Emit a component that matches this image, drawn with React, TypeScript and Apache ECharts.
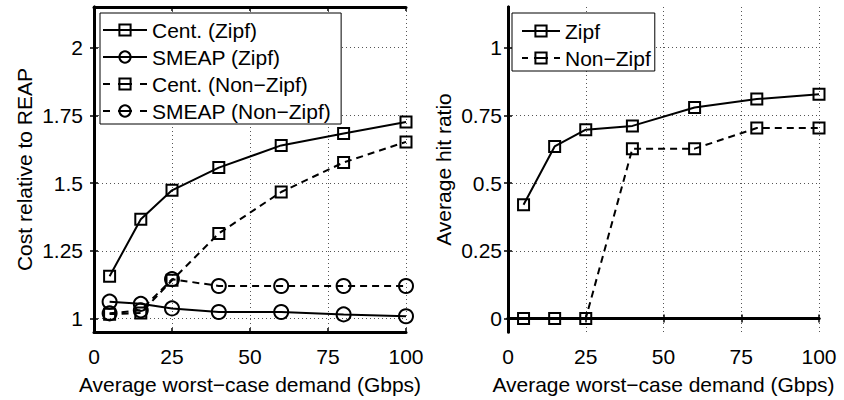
import React, { useEffect, useRef } from "react";
import * as echarts from "echarts";

const demand = [5, 15, 25, 40, 60, 80, 100];
const centZipf = [1.156, 1.366, 1.473, 1.557, 1.639, 1.683, 1.725];
const smeapZipf = [1.062, 1.054, 1.037, 1.024, 1.024, 1.015, 1.008];
const centNonZipf = [1.016, 1.02, 1.141, 1.314, 1.467, 1.576, 1.652];
const smeapNonZipf = [1.019, 1.03, 1.145, 1.12, 1.12, 1.12, 1.12];
const hitZipf = [0.42, 0.635, 0.697, 0.711, 0.779, 0.81, 0.828];
const hitNonZipf = [0, 0, 0, 0.627, 0.627, 0.703, 0.703];

const costTicks = [1, 1.25, 1.5, 1.75, 2];
const hitTicks = [0, 0.25, 0.5, 0.75, 1];

const FONT = "'Liberation Sans', Arial, Helvetica, sans-serif";
const FS = 21;

function pairs(ys: number[]) {
  return demand.map((x, i) => [x, ys[i]]);
}

export default function App() {
  const ref = useRef<HTMLDivElement>(null);
  useEffect(() => {
    if (!ref.current) return;
    const chart = echarts.init(ref.current, undefined, { renderer: "svg" });
    const axisLine = { show: true, lineStyle: { color: "#000", width: 3 } };
    const tick = { show: true, inside: true, length: 4, lineStyle: { color: "#000", width: 1.5 } };
    const grid = { show: true, lineStyle: { color: "#555", width: 1, type: [1, 3] } };
    const xBottom = (gi: number) => ({
      type: "value",
      gridIndex: gi,
      position: "bottom",
      min: 0,
      max: 100,
      interval: 25,
      axisLine,
      axisTick: tick,
      splitLine: grid,
      axisLabel: { color: "#000", fontSize: FS, fontFamily: FONT, margin: 14 },
      name: "Average worst\u2212case demand (Gbps)",
      nameLocation: "middle",
      nameGap: 42,
      nameTextStyle: { color: "#000", fontSize: FS, fontFamily: FONT },
    });
    const xTop = (gi: number) => ({
      type: "value",
      gridIndex: gi,
      position: "top",
      min: 0,
      max: 100,
      interval: 25,
      axisLine,
      axisTick: tick,
      splitLine: { show: false },
      axisLabel: { show: false },
    });
    const yLeft = (gi: number, min: number, max: number, ticks: number[], name: string, margin: number, gap: number) => ({
      type: "value",
      gridIndex: gi,
      position: "left",
      min,
      max,
      axisLine,
      axisTick: { ...tick, customValues: ticks },
      splitLine: grid,
      axisLabel: { color: "#000", fontSize: FS, fontFamily: FONT, margin, customValues: ticks },
      name,
      nameLocation: "middle",
      nameGap: gap,
      nameTextStyle: { color: "#000", fontSize: FS, fontFamily: FONT },
    });
    const yRight = (gi: number, min: number, max: number, ticks: number[]) => ({
      type: "value",
      gridIndex: gi,
      position: "right",
      min,
      max,
      axisLine,
      axisTick: { ...tick, customValues: ticks },
      splitLine: { show: false },
      axisLabel: { show: false, customValues: ticks },
    });
    const mk = (name: string, ys: number[], sym: string, dashed: boolean, xi: number, yi: number) => ({
      type: "line",
      name,
      data: pairs(ys),
      xAxisIndex: xi,
      yAxisIndex: yi,
      symbol: sym,
      symbolSize: sym === "rect" ? 11 : 14,
      showSymbol: true,
      lineStyle: { color: "#000", width: 2, type: dashed ? [7, 5] : "solid" },
      itemStyle: { color: "rgba(0,0,0,0)", borderColor: "#000", borderWidth: 2 },
      emphasis: { disabled: true },
    });
    const legendBase = {
      orient: "vertical",
      backgroundColor: "#fff",
      borderColor: "#000",
      borderWidth: 1,
      borderRadius: 0,
      itemHeight: 14,
      itemGap: 3,
      textStyle: { color: "#000", fontSize: FS, fontFamily: FONT, lineHeight: 24 },
      selectedMode: false,
    };
    const dashL = [7, 8, 14, 8, 7, 100];
    const dashR = [6, 6, 14, 6, 6, 100];
    chart.setOption({
      animation: false,
      textStyle: { fontFamily: FONT },
      grid: [
        { left: 94, top: 7, width: 312, height: 326 },
        { left: 508, top: 7, width: 311, height: 326 },
      ],
      xAxis: [xBottom(0), xTop(0), xBottom(1), xTop(1)],
      yAxis: [
        yLeft(0, 0.95, 2.15, costTicks, "Cost relative to REAP", 11, 59),
        yRight(0, 0.95, 2.15, costTicks),
        yLeft(1, -0.05, 1.15, hitTicks, "Average hit ratio", 6, 54),
        yRight(1, -0.05, 1.15, hitTicks),
      ],
      legend: [
        {
          ...legendBase,
          left: 100,
          top: 13,
          padding: [5, 10, 1, 2],
          itemWidth: 44,
          data: [
            { name: "Cent. (Zipf)" },
            { name: "SMEAP (Zipf)" },
            { name: "Cent. (Non\u2212Zipf)", lineStyle: { type: dashL } },
            { name: "SMEAP (Non\u2212Zipf)", lineStyle: { type: dashL } },
          ],
        },
        {
          ...legendBase,
          left: 512,
          top: 13,
          padding: [6, 4, 1, 9],
          itemWidth: 38,
          data: [{ name: "Zipf" }, { name: "Non\u2212Zipf", lineStyle: { type: dashR } }],
        },
      ],
      series: [
        mk("Cent. (Zipf)", centZipf, "rect", false, 0, 0),
        mk("SMEAP (Zipf)", smeapZipf, "circle", false, 0, 0),
        mk("Cent. (Non\u2212Zipf)", centNonZipf, "rect", true, 0, 0),
        mk("SMEAP (Non\u2212Zipf)", smeapNonZipf, "circle", true, 0, 0),
        mk("Zipf", hitZipf, "rect", false, 2, 2),
        mk("Non\u2212Zipf", hitNonZipf, "rect", true, 2, 2),
      ],
    });
    return () => chart.dispose();
  }, []);
  return (
    <div
      ref={ref}
      style={{ position: "fixed", left: 0, top: 0, width: 844, height: 400, background: "#fff" }}
    />
  );
}
